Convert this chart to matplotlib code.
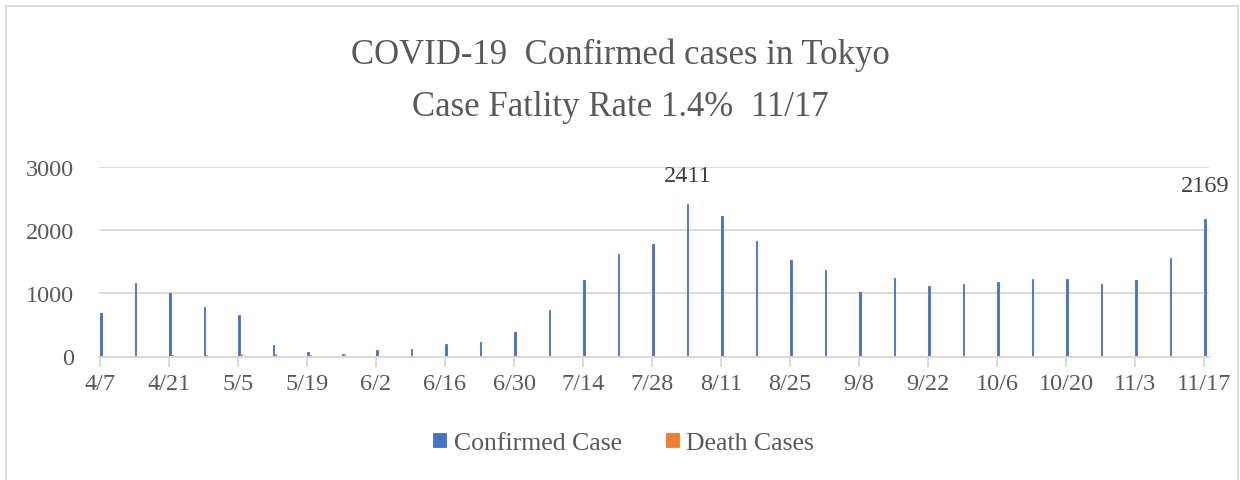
import matplotlib
matplotlib.use("Agg")
import matplotlib.pyplot as plt
import numpy as np
from matplotlib.patches import Rectangle

plt.rcParams['font.family'] = ['Liberation Serif', 'DejaVu Serif']

# Weekly dates (days since 4/7) and tick labels
week_labels = ["4/7", "4/14", "4/21", "4/28", "5/5", "5/12", "5/19", "5/26", "6/2", "6/9",
               "6/16", "6/23", "6/30", "7/7", "7/14", "7/21", "7/28", "8/4", "8/11", "8/18",
               "8/25", "9/1", "9/8", "9/15", "9/22", "9/29", "10/6", "10/13", "10/20", "10/27",
               "11/3", "11/10", "11/17"]
confirmed = [684, 1163, 1005, 779, 658, 189, 74, 45, 110, 126,
             205, 226, 384, 742, 1210, 1621, 1784, 2411, 2226, 1826,
             1526, 1374, 1026, 1247, 1121, 1153, 1179, 1232, 1226, 1142,
             1216, 1563, 2169]
deaths = [6, 10, 18, 22, 35, 40, 30, 42, 8, 3,
          2, 2, 2, 3, 3, 4, 5, 8, 10, 14,
          15, 12, 10, 9, 8, 6, 7, 6, 5, 6,
          5, 6, 8]
tick_labels = ["4/7", "4/21", "5/5", "5/19", "6/2", "6/16", "6/30", "7/14", "7/28",
               "8/11", "8/25", "9/8", "9/22", "10/6", "10/20", "11/3", "11/17"]
annotations = {17: "2411", 32: "2169"}

days = np.arange(len(week_labels)) * 7

text_col = "#595959"
grid_col = "#d9d9d9"
blue = "#4472C4"
orange = "#ED7D31"

fig = plt.figure(figsize=(12.4, 4.81), dpi=100)
ax = fig.add_axes([99/1240, 1 - 357.5/481, (1209 - 99)/1240, (357.5 - 168)/481])

# chart border
fig.patches.append(Rectangle((6/1240, -0.05), (1238 - 6)/1240, 1.05 - 7/481,
                             transform=fig.transFigure, fill=False,
                             edgecolor=grid_col, linewidth=1.3))

bw = 0.35
ax.bar(days + 0.2, confirmed, width=bw, color=blue, edgecolor=blue, linewidth=0.6,
       label="Confirmed Case", zorder=3)
ax.bar(days + 0.6, deaths, width=bw, color=orange, edgecolor=orange, linewidth=0.6,
       label="Death Cases", zorder=3)

for i, txt in annotations.items():
    ax.annotate(txt, (days[i] + 0.2, confirmed[i]), xytext=(0, 13 if i == 17 else 17),
                textcoords="offset points", ha="center", va="bottom",
                fontsize=17.5, color="#404040", annotation_clip=False)

ax.set_xlim(-0.2, 225)
ax.set_ylim(0, 3000)
ax.set_yticks([0, 1000, 2000, 3000])
ax.set_xticks(np.arange(len(tick_labels)) * 14)
ax.set_xticklabels(tick_labels)

ax.grid(axis="y", color=grid_col, linewidth=1.3, zorder=0)
for s in ["top", "right", "left"]:
    ax.spines[s].set_visible(False)
ax.spines["bottom"].set_color(grid_col)
ax.spines["bottom"].set_linewidth(1.3)
ax.spines["bottom"].set_zorder(4)
ax.tick_params(axis="x", colors=grid_col, length=7, width=1.3, labelcolor=text_col,
               labelsize=17.5, pad=5)
ax.tick_params(axis="y", length=0, labelcolor=text_col, labelsize=17.5, pad=18)

fig.text(0.5, 1 - 55/481, "COVID-19  Confirmed cases in Tokyo", ha="center", va="center",
         fontsize=25, color=text_col)
fig.text(0.5, 1 - 107/481, "Case Fatlity Rate 1.4%  11/17", ha="center", va="center",
         fontsize=25, color=text_col)

leg = fig.legend(loc="center", bbox_to_anchor=(0.503, 1 - 444/481), ncol=2, frameon=False,
                 fontsize=18.5, handlelength=0.5, handleheight=0.45, handletextpad=0.3,
                 columnspacing=1.7)
for t in leg.get_texts():
    t.set_color(text_col)

fig.savefig("out.png", dpi=100)
